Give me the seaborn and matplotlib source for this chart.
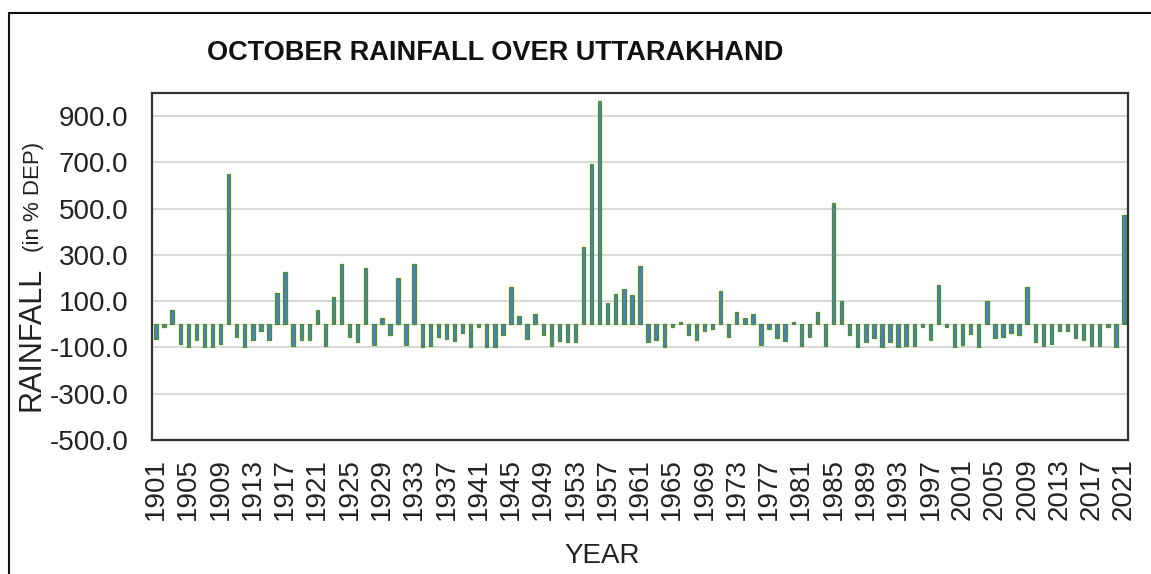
import matplotlib
matplotlib.use("Agg")
import matplotlib.pyplot as plt
import seaborn as sns
from matplotlib.patches import Rectangle

# October rainfall departure (%) over Uttarakhand
years = list(range(1901, 2022))
rain_dep = [
    -62, -13, 61, -85, -100, -68, -100, -100, -85, 650,          # 1901-1910
    -54, -100, -68, -27, -68, 136, 226, -95, -68, -68,           # 1911-1920
    61, -95, 117, 259, -54, -78, 243, -88, 26, -46,              # 1921-1930
    201, -88, 259, -100, -95, -54, -64, -71, -38, -100,          # 1931-1940
    -13, -100, -100, -46, 161, 35, -64, 45, -46, -95,            # 1941-1950
    -71, -78, -78, 336, 693, 965, 94, 129, 152, 127,             # 1951-1960
    253, -78, -68, -100, -10, 12, -45, -68, -27, -20,            # 1961-1970
    143, -54, 54, 26, 45, -88, -19, -61, -71, 12,                # 1971-1980
    -95, -54, 54, -95, 525, 101, -46, -100, -78, -61,            # 1981-1990
    -100, -78, -100, -95, -95, -13, -68, 169, -13, -100,         # 1991-2000
    -88, -43, -100, 101, -61, -54, -38, -46, 161, -78,           # 2001-2010
    -95, -85, -27, -27, -61, -68, -95, -95, -13, -100,           # 2011-2020
    473,                                                         # 2021
]
y_ticks = [-500, -300, -100, 100, 300, 500, 700, 900]

sns.set_style("white")
plt.rcParams["font.family"] = ["Liberation Sans", "DejaVu Sans"]

W, H = 1151, 574
fig = plt.figure(figsize=(W / 100, H / 100), dpi=100)
ax = fig.add_axes([152 / W, 1 - 440 / H, (1128 - 152) / W, (440 - 93) / H])

sns.barplot(x=[str(y) for y in years], y=rain_dep, ax=ax, color="#4a7fc1",
            saturation=1, width=0.42, edgecolor="#4f8f2c", linewidth=0.9)

ax.set_ylim(-500, 1000)
ax.set_yticks(y_ticks)
ax.set_yticklabels([f"{v:.1f}" for v in y_ticks])
ax.set_xticks(range(0, len(years), 4))
ax.set_xticklabels([str(y) for y in years[::4]], rotation=90)
ax.set_xlim(-0.5, len(years) - 0.5)

ax.yaxis.grid(True, color="#d3d8d3", linewidth=1.3)
ax.set_axisbelow(True)
ax.axhline(0, color="#d8d8d8", linewidth=1.0, zorder=0.5)

ax.tick_params(axis="y", length=0, pad=17, labelsize=20, labelcolor="#222222")
ax.tick_params(axis="x", length=0, pad=13, labelsize=20, labelcolor="#222222")
for s in ax.spines.values():
    s.set_visible(True)
    s.set_color("#333333")
    s.set_linewidth(1.6)

ax.set_xlabel("")
ax.set_ylabel("")

fig.text(495 / W, 1 - 53 / H, "OCTOBER RAINFALL OVER UTTARAKHAND",
         ha="center", va="center", fontsize=19.5, fontweight="bold", color="#111111")
fig.text(602 / W, 1 - 556 / H, "YEAR", ha="center", va="center",
         fontsize=20, color="#222222")
fig.text(31 / W, 1 - 339 / H, "RAINFALL", ha="center", va="center",
         rotation=90, fontsize=22, color="#222222")
fig.text(34 / W, 1 - 197 / H, "(in % DEP)", ha="center", va="center",
         rotation=90, fontsize=16, color="#222222")

# outer frame of the original picture
fig.patches.append(Rectangle((9 / W, -0.1), 1.2, 1.1 - 13 / H, transform=fig.transFigure,
                             fill=False, edgecolor="#111111", linewidth=1.5))

fig.savefig("out.png", dpi=100)
